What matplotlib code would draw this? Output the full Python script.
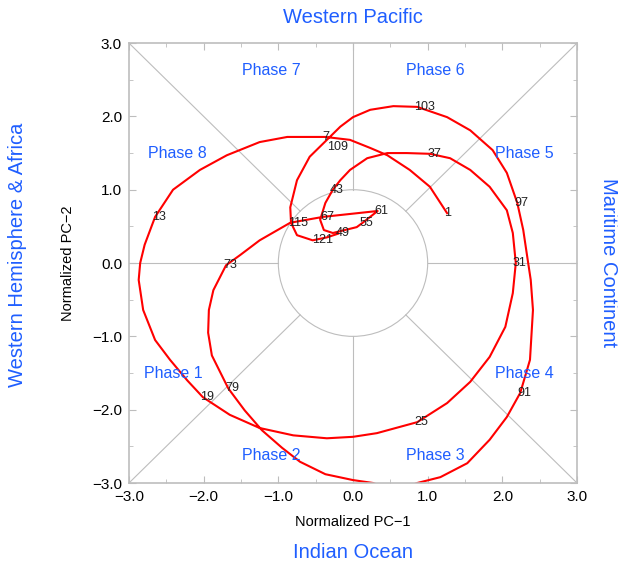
import numpy as np
import matplotlib.pyplot as plt
from matplotlib.ticker import MultipleLocator, FuncFormatter

plt.rcParams['font.family'] = ['Liberation Sans', 'DejaVu Sans']

# RMM index trajectory (PC-1, PC-2), one point every few days
pc1 = [1.26, 1.03, 0.76, 0.46, 0.23, -0.04, -0.37, -0.88, -1.25, -1.69, -2.05, -2.41,
       -2.65, -2.79, -2.85, -2.87, -2.81, -2.65, -2.45, -2.22, -2.01, -1.65, -1.25, -0.80,
       -0.35, 0.0, 0.32, 0.86, 1.26, 1.57, 1.83, 2.04, 2.14, 2.18, 2.14, 2.06, 1.83, 1.57,
       1.30, 1.03, 0.72, 0.46, 0.19, -0.04, -0.17, -0.27, -0.37, -0.44, -0.39, -0.27, 0.05,
       0.13, 0.33, -0.40, -0.84, -1.25, -1.51, -1.70, -1.87, -1.93, -1.94, -1.89, -1.67,
       -1.45, -1.22, -0.95, -0.71, -0.37, 0.0, 0.27, 0.55, 0.86, 1.17, 1.53, 1.83, 2.06,
       2.24, 2.37, 2.41, 2.38, 2.34, 2.28, 2.20, 2.06, 1.87, 1.57, 1.26, 0.86, 0.54, 0.23,
       0.0, -0.17, -0.35, -0.58, -0.75, -0.84, -0.83, -0.75, -0.54, -0.35, -0.20]
pc2 = [0.68, 1.04, 1.27, 1.47, 1.57, 1.68, 1.72, 1.72, 1.65, 1.47, 1.27, 1.00,
       0.63, 0.25, 0.0, -0.23, -0.64, -1.05, -1.32, -1.60, -1.83, -2.07, -2.25, -2.35,
       -2.39, -2.37, -2.32, -2.17, -1.91, -1.62, -1.28, -0.87, -0.41, 0.0, 0.41, 0.72, 1.04, 1.27,
       1.43, 1.49, 1.50, 1.50, 1.43, 1.27, 1.13, 1.00, 0.82, 0.59, 0.45, 0.41, 0.49,
       0.55, 0.71, 0.63, 0.55, 0.31, 0.11, -0.03, -0.37, -0.64, -0.95, -1.26, -1.71,
       -2.01, -2.28, -2.52, -2.71, -2.88, -2.96, -3.0, -3.12, -3.0, -2.92, -2.73, -2.41, -2.10,
       -1.77, -1.32, -0.64, -0.23, 0.04, 0.45, 0.82, 1.23, 1.54, 1.81, 1.99, 2.13, 2.14, 2.09,
       1.99, 1.86, 1.68, 1.45, 1.13, 0.76, 0.55, 0.38, 0.31, 0.35, 0.40]

# day labels and the index of the point they belong to
days = [1, 7, 13, 19, 25, 31, 37, 43, 49, 55, 61, 67, 73, 79, 85, 91, 97, 103, 109, 115, 121]
day_idx = [0, 6, 12, 20, 27, 33, 39, 45, 49, 51, 52, 53, 57, 62, 70, 76, 82, 87, 92, 96, 99]

phases = ['Phase 1', 'Phase 2', 'Phase 3', 'Phase 4', 'Phase 5', 'Phase 6', 'Phase 7', 'Phase 8']
phase_x = [-2.4, -1.1, 1.1, 2.3, 2.3, 1.1, -1.1, -2.35]
phase_y = [-1.5, -2.62, -2.62, -1.5, 1.5, 2.62, 2.62, 1.5]

blue = '#1f5eff'
grey = '#bdbdbd'

fig = plt.figure(figsize=(6.18, 5.64), dpi=100)
ax = fig.add_axes([0.2087, 0.1436, 0.725, 0.780])
ax.set_xlim(-3, 3)
ax.set_ylim(-3, 3)

# phase boundary lines outside the unit circle
r = 1 / np.sqrt(2)
ax.plot([0, 0], [1, 3], color=grey, lw=0.8)
ax.plot([0, 0], [-1, -3], color=grey, lw=0.8)
ax.plot([1, 3], [0, 0], color=grey, lw=0.8)
ax.plot([-1, -3], [0, 0], color=grey, lw=0.8)
for sx, sy in [(1, 1), (1, -1), (-1, 1), (-1, -1)]:
    ax.plot([sx * r, sx * 3], [sy * r, sy * 3], color=grey, lw=0.8)
ax.add_patch(plt.Circle((0, 0), 1, fill=False, color=grey, lw=0.8))

ax.plot(pc1, pc2, color='red', lw=1.5, clip_on=True)

for d, i in zip(days, day_idx):
    dx, dy = -2, 0
    if d == 109:
        dx, dy = 0, -5
    elif d == 49:
        dx, dy = 2, 0
    elif d == 121:
        dx, dy = -11, -2
    ax.annotate(str(d), (pc1[i], pc2[i]), xytext=(dx, dy), textcoords='offset points',
                ha='left', va='center', fontsize=9, color='#222222',
                annotation_clip=True)

for name, x, y in zip(phases, phase_x, phase_y):
    ax.text(x, y, name, color=blue, fontsize=11.5, ha='center', va='center')

fmt = FuncFormatter(lambda v, p: f'{v:.1f}'.replace('-', '\u2212'))
ax.xaxis.set_major_locator(MultipleLocator(1))
ax.yaxis.set_major_locator(MultipleLocator(1))
ax.xaxis.set_minor_locator(MultipleLocator(0.5))
ax.yaxis.set_minor_locator(MultipleLocator(0.5))
ax.xaxis.set_major_formatter(fmt)
ax.yaxis.set_major_formatter(fmt)
ax.tick_params(which='both', direction='in', top=True, right=True, color=grey,
               labelsize=11, pad=5)
ax.tick_params(which='major', length=5)
ax.tick_params(which='minor', length=3)
for s in ax.spines.values():
    s.set_color(grey)
    s.set_linewidth(1.2)

ax.set_xlabel('Normalized PC\u22121', fontsize=10.5, labelpad=8)
ax.set_ylabel('Normalized PC\u22122', fontsize=10.5, labelpad=12)

fig.text(0.571, 0.969, 'Western Pacific', color=blue, fontsize=14.5, ha='center', va='center')
fig.text(0.571, 0.021, 'Indian Ocean', color=blue, fontsize=14.5, ha='center', va='center')
fig.text(0.029, 0.548, 'Western Hemisphere & Africa', color=blue, fontsize=14.5,
         ha='center', va='center', rotation=90)
fig.text(0.984, 0.534, 'Maritime Continent', color=blue, fontsize=14.5,
         ha='center', va='center', rotation=270)

fig.savefig('out.png', dpi=100)
